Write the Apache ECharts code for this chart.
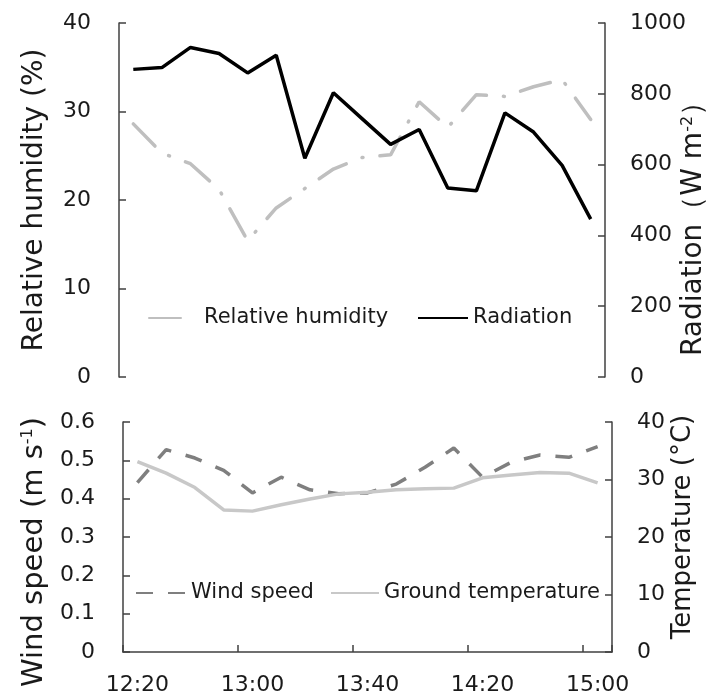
<!DOCTYPE html>
<html>
<head>
<meta charset="utf-8">
<script src="https://cdn.jsdelivr.net/npm/echarts@6/dist/echarts.min.js"></script>
<style>
html,body{margin:0;padding:0;background:#fff;}
#chart{width:707px;height:698px;}
</style>
</head>
<body>
<div id="chart"></div>
<script>
// ---- data ----
var times = ['12:20','12:30','12:40','12:50','13:00','13:10','13:20','13:30','13:40','13:50','14:00','14:10','14:20','14:30','14:40','14:50','15:00'];
var humidity = [28.6, 25.3, 24.1, 21.2, 15.4, 19.1, 21.3, 23.5, 24.8, 25.1, 31.1, 28.2, 31.9, 31.7, 32.8, 33.6, 29.1];
var radiation = [869, 874, 931, 914, 859, 909, 618, 803, 730, 657, 699, 534, 526, 746, 692, 598, 446];
var windSpeed = [0.442, 0.528, 0.506, 0.474, 0.415, 0.456, 0.423, 0.413, 0.415, 0.438, 0.482, 0.532, 0.456, 0.495, 0.514, 0.508, 0.536];
var groundTemp = [33.1, 31.1, 28.6, 24.7, 24.5, 25.6, 26.6, 27.5, 27.8, 28.2, 28.4, 28.5, 30.3, 30.8, 31.2, 31.1, 29.4];

var FONT = 'DejaVu Sans';
var TXT = '#1a1a1a';
var AX = '#404040';

function yAxisBase(grid, pos, min, max, interval, dec, name, gap, nameStyle) {
  return {
    type: 'value', gridIndex: grid, position: pos, min: min, max: max, interval: interval,
    axisLine: {show: true, lineStyle: {color: AX, width: 1.5}},
    axisTick: {show: true, inside: true, length: 7, lineStyle: {color: AX, width: 1.5}},
    splitLine: {show: false},
    axisLabel: {fontFamily: FONT, fontSize: 22, color: TXT, margin: pos === 'left' ? 28 : 25,
      formatter: function (v) { return v === 0 ? '0' : (dec ? Number(v).toFixed(dec) : String(Math.round(v))); }},
    name: name, nameLocation: 'middle', nameRotate: 90, nameGap: gap, nameMoveOverlap: false,
    nameTextStyle: Object.assign({fontFamily: FONT, fontSize: 28, color: TXT}, nameStyle || {})
  };
}
var supStyle = {sup: {fontFamily: FONT, fontSize: 16, color: TXT, verticalAlign: 'top', padding: [0, 0, 12, 0]}};

var chart = echarts.init(document.getElementById('chart'), null, {renderer: 'canvas'});
var legendText = {fontFamily: FONT, fontSize: 21, color: TXT, lineHeight: 24};
var legendBase = {itemWidth: 50, itemHeight: 14, padding: 0, textStyle: legendText, itemStyle: {opacity: 0}};
chart.setOption({
  backgroundColor: '#ffffff',
  animation: false,
  grid: [
    {left: 119, right: 102, top: 23, height: 354, outerBoundsMode: 'none', containLabel: false},
    {left: 123, right: 95, top: 422, height: 230, outerBoundsMode: 'none', containLabel: false}
  ],
  legend: [
    Object.assign({data: ['Relative humidity'], left: 148, top: 306}, legendBase,
      {lineStyle: {type: [32, 60], cap: 'round'}}),
    Object.assign({data: ['Radiation'], left: 417, top: 306}, legendBase),
    Object.assign({data: ['Wind speed'], left: 135, top: 581}, legendBase),
    Object.assign({data: ['Ground temperature'], left: 330, top: 581}, legendBase, {itemWidth: 48})
  ],
  xAxis: [
    {type: 'category', gridIndex: 0, data: times, boundaryGap: true, show: false},
    {type: 'category', gridIndex: 1, data: times, boundaryGap: true,
     axisLine: {show: true, lineStyle: {color: AX, width: 1.5}},
     axisTick: {show: true, inside: true, interval: 3, length: 7, lineStyle: {color: AX, width: 1.5}},
     axisLabel: {interval: 3, margin: 22, fontFamily: FONT, fontSize: 22, color: TXT},
     splitLine: {show: false}}
  ],
  yAxis: [
    yAxisBase(0, 'left', 0, 40, 10, 0, 'Relative humidity (%)', 70),
    yAxisBase(0, 'right', 0, 1000, 200, 0, 'Radiation（W m{sup|-2}）', 75,
      {padding: [0, 44, 0, 0], rich: supStyle}),
    yAxisBase(1, 'left', 0, 0.6, 0.1, 1, 'Wind speed (m s{sup|-1})', 74,
      {fontSize: 29, padding: [0, 30, 0, 0], rich: supStyle}),
    yAxisBase(1, 'right', 0, 40, 10, 0, 'Temperature (°C)', 58, {fontSize: 26, padding: [0, 0, 0, 20]})
  ],
  series: [
    {name: 'Relative humidity', type: 'line', xAxisIndex: 0, yAxisIndex: 0, data: humidity,
     symbol: 'none', color: '#bfbfbf',
     lineStyle: {color: '#bfbfbf', width: 3.5, type: [31, 17, 1, 17], cap: 'round'}},
    {name: 'Radiation', type: 'line', xAxisIndex: 0, yAxisIndex: 1, data: radiation,
     symbol: 'none', color: '#000000',
     lineStyle: {color: '#000000', width: 3.5}},
    {name: 'Wind speed', type: 'line', xAxisIndex: 1, yAxisIndex: 2, data: windSpeed,
     symbol: 'none', color: '#7f7f7f',
     lineStyle: {color: '#7f7f7f', width: 3.5, type: [17, 15]}},
    {name: 'Ground temperature', type: 'line', xAxisIndex: 1, yAxisIndex: 3, data: groundTemp,
     symbol: 'none', color: '#c8c8c8',
     lineStyle: {color: '#c8c8c8', width: 3.5}}
  ]
});
</script>
</body>
</html>
